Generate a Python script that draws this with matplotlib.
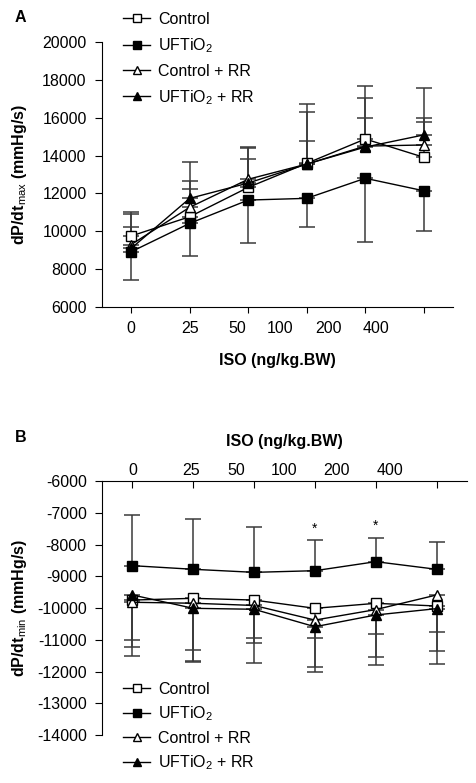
import numpy as np
import matplotlib
matplotlib.use("Agg")
import matplotlib.pyplot as plt
from matplotlib.lines import Line2D

plt.rcParams["font.family"] = ["Liberation Sans", "DejaVu Sans"]
plt.rcParams["mathtext.fontset"] = "custom"
plt.rcParams["mathtext.rm"] = "Liberation Sans"
plt.rcParams["mathtext.it"] = "Liberation Sans:italic"
plt.rcParams["mathtext.bf"] = "Liberation Sans:bold"
plt.rcParams["axes.unicode_minus"] = False

# ---------------------------------------------------------------------------
# data
# ---------------------------------------------------------------------------
doses = ["0", "25", "50", "100", "200", "400"]
xpos = np.arange(len(doses))

# Panel A: dP/dt max (mmHg/s)
a_ctrl      = [9750, 10770, 12320, 13590, 14875, 13910]
a_ctrl_err  = [1290, 1450, 1500, 3135, 2815, 1880]          # upward
a_uft       = [8920, 10420, 11650, 11740, 12800, 12140]
a_uft_err   = [1490, 1720, 2250, 1500, 3350, 2120]          # downward
a_crr       = [9300, 11270, 12750, 13550, 14500, 14560]
a_crr_err   = [1610, 1400, 1720, 2740, 2520, 1440]          # upward
a_urr       = [9100, 11740, 12550, 13550, 14450, 15090]
a_urr_err   = [1140, 1905, 1850, 1220, 1550, 2460]          # upward

# Panel B: dP/dt min (mmHg/s)
b_ctrl      = [-9750, -9695, -9750, -10010, -9853, -9937]
b_ctrl_err  = [1750, 1995, 1990, 1840, 1942, 1836]          # downward
b_uft       = [-8667, -8781, -8877, -8825, -8541, -8781]
b_uft_err   = [1606, 1573, 1439, 957, 756, 871]             # upward
b_crr       = [-9820, -9850, -9920, -10380, -10050, -9590]
b_crr_err   = [1400, 1470, 1190, 1630, 1483, 1764]          # downward
b_urr       = [-9590, -10010, -10040, -10590, -10220, -10020]
b_urr_err   = [1418, 1650, 915, 365, 600, 725]              # downward
b_star_idx  = [3, 4]                                        # significant points

labels = ["Control", "UFTiO$_2$", "Control + RR", "UFTiO$_2$ + RR"]
styles = [dict(marker="s", mfc="white"), dict(marker="s", mfc="black"),
          dict(marker="^", mfc="white"), dict(marker="^", mfc="black")]

# tick label positions (the original labels drift off the tick marks)
a_lab_pos = [0, 1, 1.81, 2.54, 3.38, 4.18]
b_lab_pos = [0, 0.97, 1.71, 2.5, 3.35, 4.23]

FS = 11.5
ERRC = "#3a3a3a"


def draw_series(ax, y, err, style, up):
    zero = np.zeros(len(err))
    yerr = [zero, err] if up else [err, zero]
    ax.errorbar(xpos, y, yerr=yerr, fmt="none", ecolor=ERRC, elinewidth=1.1,
                capsize=5.5, capthick=1.1, zorder=2)
    ax.plot(xpos, y, color="black", lw=1.0, ms=7.6, mec="black", mew=1.0,
            zorder=3, **style)


def legend(ax, anchor, spacing):
    handles = [Line2D([], [], color="black", lw=1.0, ms=6, mec="black", mew=1.0, **s)
               for s in styles]
    ax.legend(handles, labels, loc="upper left", bbox_to_anchor=anchor, frameon=False,
              fontsize=FS, handlelength=1.7, handletextpad=0.5, labelspacing=spacing,
              borderaxespad=0, borderpad=0)


def dose_axis(ax, lab_pos, pad, direction, length):
    ax.xaxis.remove_overlapping_locs = False
    ax.set_xticks(xpos)
    ax.set_xticklabels([])
    ax.set_xticks(lab_pos, doses, minor=True)
    ax.tick_params(axis="x", which="minor", length=0, pad=pad, labelsize=FS)
    ax.tick_params(axis="x", which="major", direction=direction, length=length)


fig = plt.figure(figsize=(4.76, 7.83), dpi=100)

# ---------------------------------------------------------------------------
# Panel A
# ---------------------------------------------------------------------------
ax = fig.add_axes([102/476, 1 - 307/783, 351/476, 265/783])
draw_series(ax, a_ctrl, a_ctrl_err, styles[0], True)
draw_series(ax, a_crr, a_crr_err, styles[2], True)
draw_series(ax, a_urr, a_urr_err, styles[3], True)
draw_series(ax, a_uft, a_uft_err, styles[1], False)
ax.set_xlim(-0.5, 5.5)
ax.set_ylim(6000, 20000)
ax.set_yticks(np.arange(6000, 20001, 2000))
dose_axis(ax, a_lab_pos, 10, "out", 4)
ax.tick_params(axis="y", direction="out", length=5, pad=6, labelsize=FS)
for s in ["top", "right"]:
    ax.spines[s].set_visible(False)
ax.set_xlabel("ISO (ng/kg.BW)", fontsize=FS, fontweight="bold", labelpad=12)
ax.set_ylabel(r"dP/dt$_{\mathrm{max}}$ (mmHg/s)", fontsize=FS, fontweight="bold")
ax.yaxis.set_label_coords(-0.209, 0.5)
legend(ax, (21/351, 1 + 30/265), 0.57)
fig.text(15/476, 1 - 18/783, "A", fontsize=FS, fontweight="bold", va="center")

# ---------------------------------------------------------------------------
# Panel B
# ---------------------------------------------------------------------------
bx = fig.add_axes([102/476, 1 - 735/783, 365/476, 254/783])
draw_series(bx, b_ctrl, b_ctrl_err, styles[0], False)
draw_series(bx, b_crr, b_crr_err, styles[2], False)
draw_series(bx, b_urr, b_urr_err, styles[3], False)
draw_series(bx, b_uft, b_uft_err, styles[1], True)
for i in b_star_idx:
    bx.text(xpos[i], b_uft[i] + b_uft_err[i] + 150, "*", ha="center", va="bottom",
            fontsize=10)
bx.set_xlim(-0.5, 5.5)
bx.set_ylim(-14000, -6000)
bx.set_yticks(np.arange(-14000, -5999, 1000))
bx.xaxis.set_ticks_position("top")
bx.xaxis.set_label_position("top")
dose_axis(bx, b_lab_pos, 2.5, "in", 5)
bx.tick_params(axis="y", direction="out", length=5, pad=6, labelsize=FS)
for s in ["bottom", "right"]:
    bx.spines[s].set_visible(False)
bx.set_xlabel("ISO (ng/kg.BW)", fontsize=FS, fontweight="bold", labelpad=12)
bx.set_ylabel(r"dP/dt$_{\mathrm{min}}$ (mmHg/s)", fontsize=FS, fontweight="bold")
bx.yaxis.set_label_coords(-0.2, 0.5)
legend(bx, (21/365, 1 - (682 - 481)/254), 0.48)
fig.text(15/476, 1 - 437/783, "B", fontsize=FS, fontweight="bold", va="center")

fig.savefig("out.png", dpi=100)
